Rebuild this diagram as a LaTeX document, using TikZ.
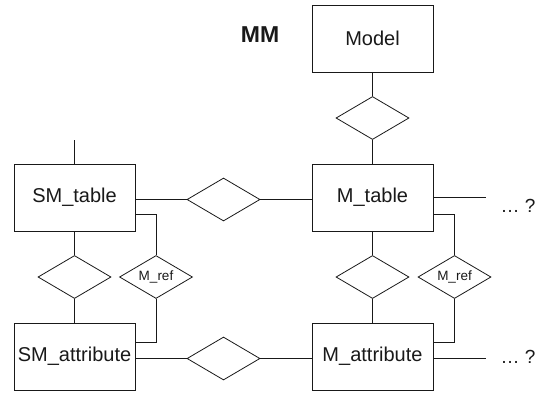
\documentclass[tikz,border=0pt]{standalone}
\usepackage{fontspec}
\setmainfont{Liberation Sans}
\usetikzlibrary{shapes.geometric}

\tikzset{
  entity/.style={draw, rectangle, minimum width=121bp, minimum height=67bp,
    inner sep=0pt, font=\fontsize{20bp}{24bp}\selectfont},
  relation/.style={draw, diamond, aspect=1.7, minimum width=73bp, minimum height=43bp,
    inner sep=0pt, font=\fontsize{13.5bp}{16bp}\selectfont},
  link/.style={draw, line width=0.8bp},
  more/.style={font=\fontsize{19bp}{23bp}\selectfont, inner sep=0pt}
}

\begin{document}
\begin{tikzpicture}[x=1bp, y=-1bp, line width=0.8bp, color=black!90]
  \useasboundingbox (0,0) rectangle (549,392);

  % title
  \node[font=\bfseries\fontsize{23bp}{27bp}\selectfont] (title) at (260,35) {MM};

  % entities
  \node[entity] (model) at (372.5,38.5) {Model};
  \node[entity] (smt)   at (74.5,197.5) {SM\_table};
  \node[entity] (mt)    at (372.5,197.5) {M\_table};
  \node[entity] (sma)   at (74.5,356.5) {SM\_attribute};
  \node[entity] (ma)    at (372.5,356.5) {M\_attribute};

  % relationships
  \node[relation] (rmodel) at (372.5,118) {};
  \node[relation] (rtab)   at (223.5,199.5) {};
  \node[relation] (rsm)    at (74.5,277) {};
  \node[relation] (refsm)  at (156,277) {M\_ref};
  \node[relation] (rm)     at (372.5,277) {};
  \node[relation] (refm)   at (454.5,277) {M\_ref};
  \node[relation] (ratt)   at (223.5,358.5) {};

  % open ends
  \coordinate (smtop) at (74.5,140);
  \coordinate (mtend) at (486,197.5);
  \coordinate (maend) at (486,358);
  \node[more] (mtmore) at (518,206) {… ?};
  \node[more] (mamore) at (518,357) {… ?};

  % connectors
  \draw[link] (model) -- (rmodel) -- (mt);
  \draw[link] (smtop) -- (smt.north);
  \draw[link] (smt.east |- rtab.west) -- (rtab.west);
  \draw[link] (rtab.east) -- (mt.west |- rtab.east);
  \draw[link] (smt) -- (rsm) -- (sma);
  \draw[link] (mt) -- (rm) -- (ma);
  \draw[link] (sma.east |- ratt.west) -- (ratt.west);
  \draw[link] (ratt.east) -- (ma.west |- ratt.east);
  \draw[link] (mt.east) -- (mtend);
  \draw[link] (ma.east |- maend) -- (maend);

  % M_ref links
  \draw[link] ([yshift=-16.5bp]smt.east) -| (refsm.north);
  \draw[link] (refsm.south) |- ([yshift=14.5bp]sma.east);
  \draw[link] ([yshift=-16.5bp]mt.east) -| (refm.north);
  \draw[link] (refm.south) |- ([yshift=14.5bp]ma.east);
\end{tikzpicture}
\end{document}
